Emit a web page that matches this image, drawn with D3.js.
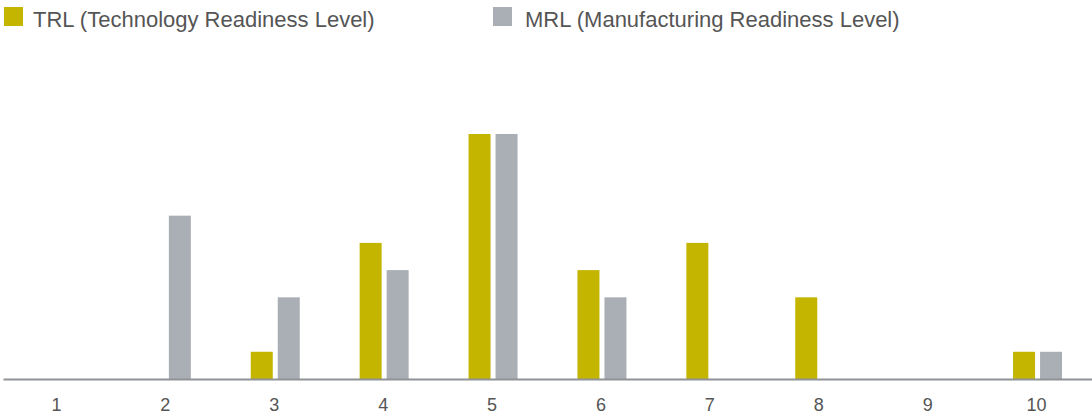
<!DOCTYPE html>
<html>
<head>
<meta charset="utf-8">
<script src="https://cdn.jsdelivr.net/npm/d3@7"></script>
<style>
  html, body { margin: 0; padding: 0; background: #fff; }
  svg { display: block; }
  text { font-family: "Liberation Sans", Arial, Helvetica, sans-serif; fill: #555; }
</style>
</head>
<body>
<svg id="chart" width="1092" height="417"></svg>
<script>
// Readiness levels on the x axis
const levels = ["1", "2", "3", "4", "5", "6", "7", "8", "9", "10"];
// Count of projects at each level
const trlValues = [0, 0, 1, 5, 9, 4, 5, 3, 0, 1];
const mrlValues = [0, 6, 3, 4, 9, 3, 0, 0, 0, 1];
const seriesNames = ["TRL (Technology Readiness Level)", "MRL (Manufacturing Readiness Level)"];
const seriesColors = ["#c3b500", "#a9afb5"];

const W = 1092, H = 417;
const svg = d3.select("#chart");

const x = d3.scaleBand().domain(levels).range([3, W]).padding(0);
const y = d3.scaleLinear().domain([0, 9]).range([379, 134]);

const barW = 22, gap = 5;
const data = levels.map((lv, i) => ({ lv, vals: [trlValues[i], mrlValues[i]] }));

const groups = svg.append("g").selectAll("g").data(data).join("g")
  .attr("transform", d => `translate(${x(d.lv) + x.bandwidth() / 2},0)`);

groups.selectAll("rect")
  .data(d => d.vals.map((v, k) => ({ v, k })).filter(e => e.v > 0))
  .join("rect")
  .attr("x", e => e.k === 0 ? -(barW + gap / 2) : gap / 2)
  .attr("width", barW)
  .attr("y", e => y(e.v))
  .attr("height", e => y(0) - y(e.v))
  .attr("fill", e => seriesColors[e.k]);

// Baseline axis with labels only
const axis = svg.append("g")
  .attr("transform", `translate(0,${y(0)})`)
  .call(d3.axisBottom(x).tickSize(0).tickPadding(19));
axis.select(".domain").attr("stroke", "#8f9296").attr("stroke-width", 2);
axis.selectAll("text")
  .attr("font-size", 18)
  .attr("font-family", "Liberation Sans, Arial, sans-serif")
  .attr("fill", "#555")
  .attr("dx", -1);

// Legend
const legendX = [4, 493];
const legendTextX = [29, 32];
const legend = svg.append("g").selectAll("g").data(seriesNames).join("g")
  .attr("transform", (d, i) => `translate(${legendX[i]},7)`);
legend.append("rect").attr("width", 19).attr("height", 19)
  .attr("fill", (d, i) => seriesColors[i]);
legend.append("text").attr("x", (d, i) => legendTextX[i]).attr("y", 20)
  .attr("font-size", 22)
  .text(d => d);
</script>
</body>
</html>
